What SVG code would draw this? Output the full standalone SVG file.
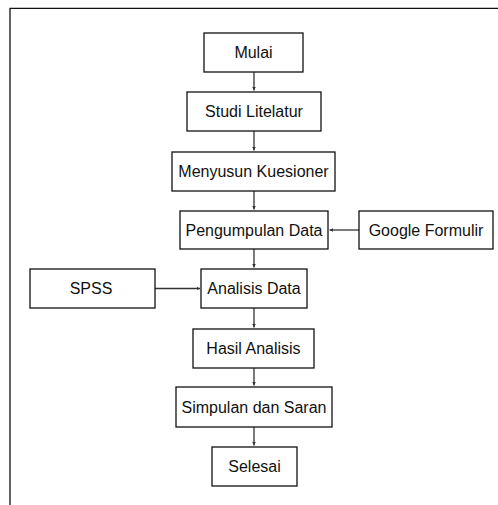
<svg xmlns="http://www.w3.org/2000/svg" width="498" height="505" viewBox="0 0 498 505">
<style>
.box{fill:#fff;stroke:#111;stroke-width:1.3}
.lbl{font-family:"Liberation Sans",Arial,sans-serif;font-size:16px;fill:#111;text-anchor:middle}
.frame{fill:none;stroke:#111;stroke-width:1.3}
.con{fill:none;stroke:#333;stroke-width:1.3;marker-end:url(#ah)}
</style>
<defs>
<marker id="ah" viewBox="0 0 4 4" markerWidth="3.5" markerHeight="3.5" refX="4" refY="2" orient="auto" markerUnits="userSpaceOnUse">
<path d="M0,0 L4,2 L0,4 z" fill="#333"/>
</marker>
</defs>
<rect width="498" height="505" fill="#fff"/>
<path class="frame" d="M10,505 V8.3 H498"/>
<g id="connectors">
<line class="con" x1="254" y1="72" x2="254" y2="90.5"/>
<line class="con" x1="254" y1="131" x2="254" y2="150.5"/>
<line class="con" x1="254" y1="191" x2="254" y2="209.5"/>
<line class="con" x1="254" y1="249" x2="254" y2="267.5"/>
<line class="con" x1="254" y1="308" x2="254" y2="327.5"/>
<line class="con" x1="254" y1="368" x2="254" y2="385.5"/>
<line class="con" x1="254" y1="427" x2="254" y2="445.5"/>
<line class="con" x1="359" y1="230" x2="329.5" y2="230"/>
<line class="con" x1="155" y1="288.5" x2="200" y2="288.5"/>
</g>
<g id="mulai"><rect class="box" x="204" y="33" width="99" height="39"/><text class="lbl" x="253.5" y="58">Mulai</text></g>
<g id="studi"><rect class="box" x="187" y="92" width="134" height="39"/><text class="lbl" x="254" y="117">Studi Litelatur</text></g>
<g id="menyusun"><rect class="box" x="172" y="152" width="163" height="39"/><text class="lbl" x="253.5" y="177">Menyusun Kuesioner</text></g>
<g id="pengumpulan"><rect class="box" x="180" y="211" width="148" height="38"/><text class="lbl" x="254" y="235.5">Pengumpulan Data</text></g>
<g id="google"><rect class="box" x="359" y="211" width="134" height="38"/><text class="lbl" x="426" y="235.5">Google Formulir</text></g>
<g id="spss"><rect class="box" x="30" y="269" width="125" height="39"/><text class="lbl" x="91" y="294">SPSS</text></g>
<g id="analisis"><rect class="box" x="201" y="269" width="106" height="39"/><text class="lbl" x="254" y="294">Analisis Data</text></g>
<g id="hasil"><rect class="box" x="193" y="329" width="121" height="39"/><text class="lbl" x="253.5" y="354">Hasil Analisis</text></g>
<g id="simpulan"><rect class="box" x="176" y="387" width="156" height="40"/><text class="lbl" x="254" y="412.5">Simpulan dan Saran</text></g>
<g id="selesai"><rect class="box" x="212" y="447" width="85" height="39"/><text class="lbl" x="254.5" y="472">Selesai</text></g>
</svg>
